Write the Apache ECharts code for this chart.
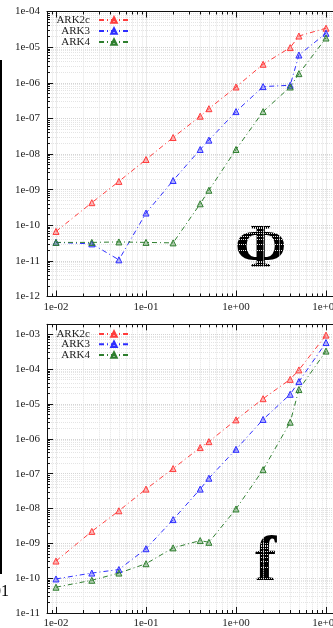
<!DOCTYPE html>
<html>
<head>
<meta charset="utf-8">
<script src="https://cdn.jsdelivr.net/npm/echarts@6/dist/echarts.min.js"></script>
<style>
  html, body { margin: 0; padding: 0; background: #fff; }
  #chart { width: 333px; height: 628px; }
</style>
</head>
<body>
<div id="chart"></div>
<script>
// time steps, shared by both panels
const steps = [0.01, 0.025, 0.05, 0.1, 0.2, 0.4, 0.5, 1, 2, 4, 5, 10];
const schemes = ['ARK2c', 'ARK3', 'ARK4'];

// error in Phi
const phiArk2c = [6.7e-11, 4.3e-10, 1.7e-9, 7e-9, 2.9e-8, 1.15e-7, 1.87e-7, 7.6e-7, 3.3e-6, 9.7e-6, 2.05e-5, 3.4e-5];
const phiArk3 = [3.3e-11, 3.0e-11, 1.07e-11, 2.2e-10, 1.8e-9, 1.34e-8, 2.45e-8, 1.55e-7, 7.8e-7, 8.5e-7, 6e-6, 2.45e-5];
const phiArk4 = [3.3e-11, 3.3e-11, 3.4e-11, 3.3e-11, 3.2e-11, 4e-10, 9.6e-10, 1.34e-8, 1.55e-7, 7.6e-7, 1.8e-6, 1.8e-5];

// error in f
const fArk2c = [3.1e-10, 2.2e-9, 8.6e-9, 3.6e-8, 1.4e-7, 5.6e-7, 8.3e-7, 3.5e-6, 1.42e-5, 5.1e-5, 9.5e-5, 9.5e-4];
const fArk3 = [9.5e-11, 1.4e-10, 1.77e-10, 7e-10, 4.8e-9, 3.6e-8, 7.4e-8, 5e-7, 3.6e-6, 1.9e-5, 4.4e-5, 5.8e-4];
const fArk4 = [5.5e-11, 8.7e-11, 1.4e-10, 2.6e-10, 7.4e-10, 1.2e-9, 1.07e-9, 9.7e-9, 1.3e-7, 3e-6, 2.6e-5, 3.3e-4];

const colors = ['#ff3c3c', '#2e2eff', '#2f7f2f'];
const fills = ['rgba(255,60,60,0.35)', 'rgba(46,46,255,0.35)', 'rgba(47,127,47,0.35)'];
const serif = 'Liberation Serif';

// gnuplot style "1e-04" labels, only on whole decades
function sci(v) {
  const e = Math.round(Math.log10(v));
  if (Math.abs(Math.log10(v) - e) > 1e-6) return '';
  return '1e' + (e < 0 ? '-' : '+') + String(Math.abs(e)).padStart(2, '0');
}

const chart = echarts.init(document.getElementById('chart'));

function xAxisFor(gridIndex, top) {
  return {
    type: 'log', logBase: 10, gridIndex: gridIndex,
    position: top ? 'top' : 'bottom',
    min: Math.pow(10, -2.1), max: Math.pow(10, 1.111),
    axisLine: { lineStyle: { color: '#111', width: 1 } },
    axisTick: { show: true, inside: true, length: 6, lineStyle: { color: '#111' } },
    minorTick: { show: true, splitNumber: 9, length: 3, lineStyle: { color: '#111' } },
    axisLabel: {
      show: !top, formatter: sci, fontFamily: serif, fontSize: 11, color: '#222', margin: 5
    },
    splitLine: { show: !top, lineStyle: { color: '#d4d4d4', type: 'dotted' } },
    minorSplitLine: { show: !top, lineStyle: { color: '#e4e4e4', type: 'dotted' } }
  };
}

function yAxisFor(gridIndex, min, max) {
  return {
    type: 'log', logBase: 10, gridIndex: gridIndex,
    min: min, max: max,
    axisLine: { show: true, lineStyle: { color: '#111', width: 1 } },
    axisTick: { show: true, inside: true, length: 6, lineStyle: { color: '#111' } },
    minorTick: { show: true, splitNumber: 9, length: 3, lineStyle: { color: '#111' } },
    axisLabel: { formatter: sci, fontFamily: serif, fontSize: 11, color: '#222', margin: 7 },
    splitLine: { show: true, lineStyle: { color: '#d4d4d4', type: 'dotted' } },
    minorSplitLine: { show: true, lineStyle: { color: '#e4e4e4', type: 'dotted' } }
  };
}

function makeSeries(name, i, values, axisIdx) {
  return {
    name: name, type: 'line',
    xAxisIndex: axisIdx, yAxisIndex: axisIdx,
    data: steps.map((s, k) => [s, values[k]]),
    symbol: 'triangle', symbolSize: 6,
    lineStyle: { color: colors[i], width: 1, type: [5, 3, 1, 3] },
    itemStyle: { color: fills[i], borderColor: colors[i], borderWidth: 1 },
    silent: true, animation: false
  };
}

// one legend per entry so that text right-aligns against the samples
function legendsAt(centers) {
  return schemes.map((name, i) => ({
    data: [name], orient: 'vertical', align: 'right',
    right: 203, top: centers[i] - 6, padding: 0,
    itemWidth: 30, itemHeight: 7, itemGap: 0, selectedMode: false,
    formatter: '{n|{name}}',
    textStyle: {
      fontFamily: serif, fontSize: 11, color: '#222', lineHeight: 12,
      rich: { n: { fontFamily: serif, fontSize: 11, color: '#222', padding: [0, 4, 0, 0] } }
    }
  }));
}

const phiSets = [phiArk2c, phiArk3, phiArk4];
const fSets = [fArk2c, fArk3, fArk4];

const option = {
  animation: false,
  grid: [
    { left: 47, top: 11.5, width: 289, height: 285, outerBoundsMode: 'none', containLabel: false },
    { left: 47, top: 324.3, width: 289, height: 288.7, outerBoundsMode: 'none', containLabel: false }
  ],
  xAxis: [xAxisFor(0, false), xAxisFor(1, false), xAxisFor(0, true), xAxisFor(1, true)],
  yAxis: [yAxisFor(0, 1e-12, 1e-4), yAxisFor(1, 1e-11, 1.94e-3)],
  legend: legendsAt([20, 31, 42]).concat(legendsAt([334, 344.3, 355])),
  series: schemes.map((n, i) => makeSeries(n, i, phiSets[i], 0))
    .concat(schemes.map((n, i) => makeSeries(n, i, fSets[i], 1))),
  graphic: [
    { type: 'text', left: 235, top: 219, style: { text: 'Φ', font: 'bold 62px "Liberation Serif"', fill: '#000' } },
    { type: 'text', left: 255, top: 531, style: { text: 'f', font: 'bold 64px "Liberation Serif"', fill: '#000' } },
    // leftovers of the neighbouring figure at the left edge
    { type: 'line', shape: { x1: 1, y1: 60, x2: 1, y2: 574 }, style: { stroke: '#000', lineWidth: 2 } },
    { type: 'text', x: 9, y: 592, style: { text: '01', font: '16px "Liberation Serif"', fill: '#000', align: 'right', verticalAlign: 'middle' } }
  ]
};

chart.setOption(option);
</script>
</body>
</html>
